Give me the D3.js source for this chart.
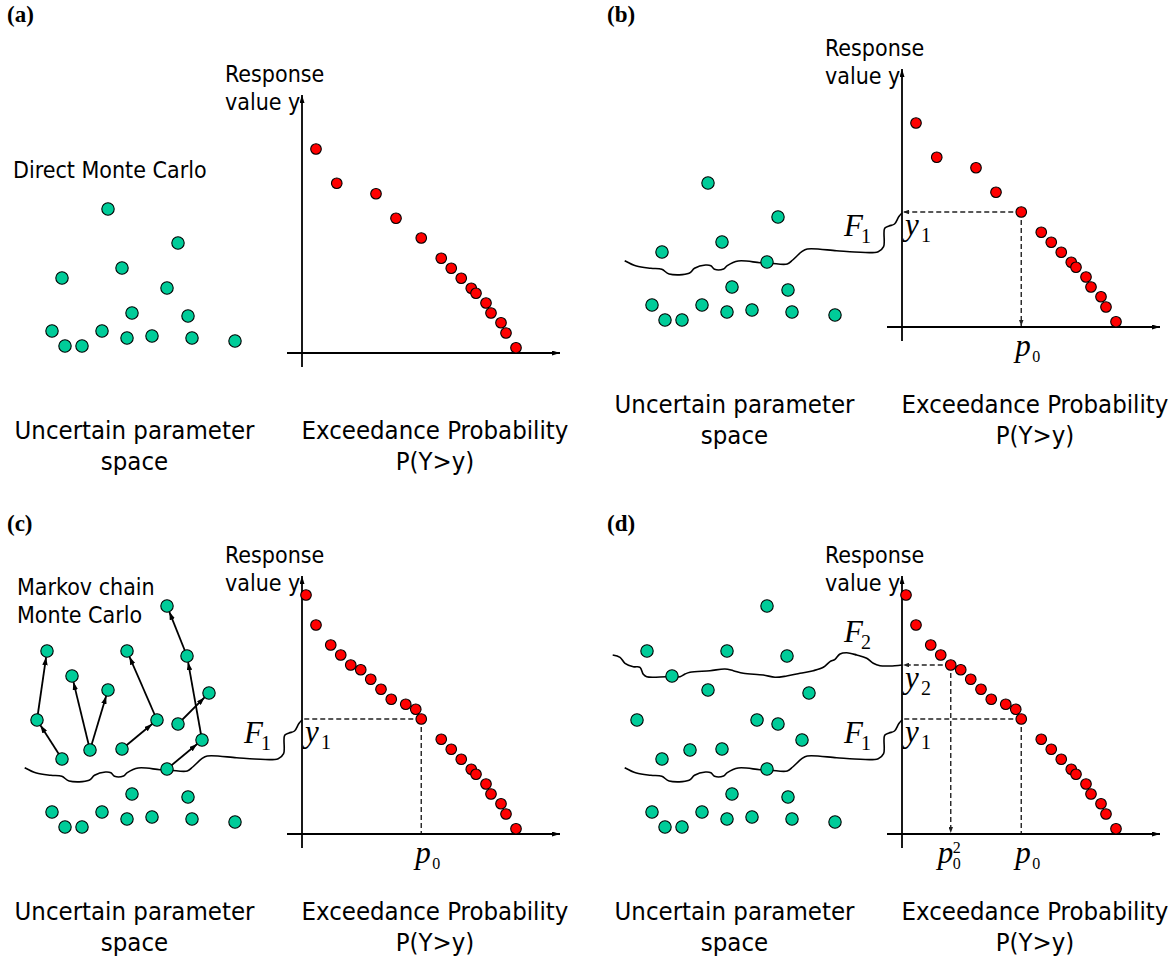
<!DOCTYPE html>
<html>
<head>
    <meta charset="utf-8">
    <title>Direct MC vs subset simulation</title>
    <script src="https://cdn.jsdelivr.net/npm/d3@7"></script>
    <style>
        body { margin: 0; background: #fff; }
    </style>
</head>
<body>
    <script type="text/javascript">

    // ---- data ----
    // parameter-space samples [u1, u2]
    const directSamples = [
        [108, 171], [178, 137], [122, 112], [62, 102], [167, 92],
        [132, 67], [188, 64], [52, 49], [102, 49], [65, 34],
        [82, 34], [127, 42], [152, 44], [192, 42], [235, 39]
    ];
    // extra samples generated by the Markov chains above F1
    const mcmcSamples = [
        [167, 255], [187, 205], [47, 210], [127, 210], [72, 185],
        [209, 168], [37, 141], [157, 141], [202, 121], [90, 111]
    ];
    const mcmcChains = [
        [[62, 102], [37, 141], [47, 210]],
        [[90, 111], [72, 185]],
        [[90, 111], [108, 171]],
        [[122, 112], [157, 141], [127, 210]],
        [[167, 92], [202, 121], [187, 205], [167, 255]],
        [[178, 137], [209, 168]]
    ];
    // failure-region boundaries F1, F2 (hand drawn)
    const levelF1 = [
        [24.7, 93.3], [36.4, 88], [50.9, 85.7], [61.8, 84.7], [69.1, 80], [89.1, 80.7],
        [94.5, 85.7], [105.5, 89], [110.9, 88.3], [114.5, 84.7], [123.6, 85],
        [127.3, 88.3], [138.2, 93], [160, 91.3], [170.9, 90.7], [187.3, 90],
        [192.7, 94], [201.8, 102.3], [207.3, 105], [236.4, 103.3], [254.5, 102],
        [278.2, 102.3], [283.6, 107.3], [284.7, 125.7], [289.1, 128], [294.5, 130],
        [298.9, 137.5], [302, 141]
    ];
    const levelF2 = [
        [12.7, 206], [20, 203.7], [25, 197.7], [33.3, 194.3], [40, 193.7],
        [43.3, 186.7], [46.7, 184.3], [66.7, 184.3], [80, 184.3], [85, 187],
        [90, 188.7], [110, 190.3], [125, 192], [133.3, 190.3], [143.3, 187.7],
        [163.3, 186], [175, 183.7], [186.7, 185], [200, 187.7], [213.3, 190.3],
        [223.3, 193.7], [230, 199.3], [235, 201.7], [240, 207], [246.7, 208.3],
        [256.7, 206], [266.7, 202.7], [273.3, 197.7], [280, 195.3], [290, 195],
        [302, 196]
    ];
    // exceedance points [P(Y>y), y]
    const exceedDirect = [
        [0.056, 0.816], [0.139, 0.679], [0.296, 0.637], [0.376, 0.539]
    ];
    const exceedLevel1 = [
        [0.016, 0.956], [0.056, 0.836], [0.115, 0.756], [0.155, 0.716],
        [0.195, 0.676], [0.235, 0.657], [0.275, 0.619], [0.316, 0.579],
        [0.357, 0.539], [0.415, 0.519], [0.455, 0.499]
    ];
    const exceedTail = [
        [0.477, 0.46], [0.557, 0.379], [0.597, 0.339], [0.637, 0.299],
        [0.677, 0.259], [0.696, 0.239], [0.736, 0.2], [0.756, 0.16],
        [0.796, 0.121], [0.816, 0.08], [0.856, 0.021]
    ];
    const y1 = 0.46, p0 = 0.477;
    const y2 = 0.676, p0sq = 0.195;

    // ---- layout ----
    const width = 1175, height = 962;
    const sansFont = "'DejaVu Sans Condensed', 'DejaVu Sans', sans-serif";
    const serifFont = "'Liberation Serif', 'Times New Roman', serif";
    const green = "#00cc99", red = "#ff0000";

    const u1 = d3.scaleLinear().domain([0, 300]).range([0, 300]);
    const u2 = d3.scaleLinear().domain([0, 380]).range([380, 0]);
    const px = d3.scaleLinear().domain([0, 1]).range([302, 552]);
    const py = d3.scaleLinear().domain([0, 1]).range([353, 103]);

    const panels = [
        {tag: "(a)", tagX: 7, tagY: 22, dx: 0, dy: 0,
         samples: [directSamples], red: [exceedDirect, exceedTail],
         method: ["Direct Monte Carlo"], methodX: 13, methodY: 178,
         levels: [], steps: [], chains: []},
        {tag: "(b)", tagX: 607, tagY: 22, dx: 600, dy: -26,
         samples: [directSamples], red: [exceedDirect, exceedTail],
         method: [], levels: [{pts: levelF1, n: "1", y: y1, ly: 262}],
         steps: [{y: y1, p: p0, arrow: true, sup: null}], chains: []},
        {tag: "(c)", tagX: 7, tagY: 531, dx: 0, dy: 481,
         samples: [directSamples, mcmcSamples], red: [exceedLevel1, exceedTail],
         method: ["Markov chain", "Monte Carlo"], methodX: 17, methodY: 114,
         levels: [{pts: levelF1, n: "1", y: y1, ly: 262}],
         steps: [{y: y1, p: p0, arrow: false, sup: null}], chains: mcmcChains},
        {tag: "(d)", tagX: 607, tagY: 531, dx: 600, dy: 481,
         samples: [directSamples, mcmcSamples], red: [exceedLevel1, exceedTail],
         method: [],
         levels: [{pts: levelF1, n: "1", y: y1, ly: 262}, {pts: levelF2, n: "2", y: y2, ly: 161}],
         steps: [{y: y1, p: p0, arrow: false, sup: null}, {y: y2, p: p0sq, arrow: true, sup: "2"}],
         chains: []}
    ];

    const svg = d3.select("body").append("svg")
        .attr("width", width)
        .attr("height", height)
        .style("background", "#fff");

    const defs = svg.append("defs");
    function addMarker(id, len, wid, color) {
        defs.append("marker")
            .attr("id", id)
            .attr("viewBox", `0 ${-wid / 2} ${len} ${wid}`)
            .attr("markerUnits", "userSpaceOnUse")
            .attr("markerWidth", len)
            .attr("markerHeight", wid)
            .attr("refX", len)
            .attr("refY", 0)
            .attr("orient", "auto")
            .append("path")
            .attr("d", `M0,${-wid / 2}L${len},0L0,${wid / 2}Z`)
            .attr("fill", color);
    }
    addMarker("axisHead", 8, 5, "#000");
    addMarker("dashHead", 6, 4.5, "#222");
    addMarker("chainHead", 8, 5.5, "#000");

    const curve = d3.line()
        .x(d => u1(d[0]))
        .y(d => u2(d[1]))
        .curve(d3.curveCatmullRom.alpha(0.5));

    panels.forEach(P => {
        svg.append("text")
            .attr("x", P.tagX)
            .attr("y", P.tagY)
            .attr("font-family", serifFont)
            .attr("font-weight", "bold")
            .attr("font-size", 23)
            .text(P.tag);

        const g = svg.append("g").attr("transform", `translate(${P.dx},${P.dy})`);

        // threshold boundaries
        P.levels.forEach(L => {
            g.append("path")
                .attr("d", curve(L.pts))
                .attr("fill", "none")
                .attr("stroke", "#000")
                .attr("stroke-width", 1.6);
        });

        // dashed read-off lines
        P.steps.forEach(s => {
            g.append("line")
                .attr("x1", px(s.p)).attr("y1", py(s.y))
                .attr("x2", px(0) + 1).attr("y2", py(s.y))
                .attr("stroke", "#222").attr("stroke-width", 1.4)
                .attr("stroke-dasharray", "5,3")
                .attr("marker-end", s.arrow ? "url(#dashHead)" : null);
            g.append("line")
                .attr("x1", px(s.p)).attr("y1", py(s.y))
                .attr("x2", px(s.p)).attr("y2", py(0) - 1)
                .attr("stroke", "#222").attr("stroke-width", 1.4)
                .attr("stroke-dasharray", "5,3")
                .attr("marker-end", s.arrow ? "url(#dashHead)" : null);
        });

        // markov chain moves
        P.chains.forEach(ch => {
            d3.pairs(ch).forEach(([a, b]) => {
                const x1 = u1(a[0]), yA = u2(a[1]);
                const x2 = u1(b[0]), yB = u2(b[1]);
                const len = Math.hypot(x2 - x1, yB - yA);
                const k = (len - 6.3) / len;
                g.append("line")
                    .attr("x1", x1).attr("y1", yA)
                    .attr("x2", x1 + (x2 - x1) * k).attr("y2", yA + (yB - yA) * k)
                    .attr("stroke", "#000").attr("stroke-width", 1.8)
                    .attr("marker-end", "url(#chainHead)");
            });
        });

        // parameter-space samples
        g.append("g").selectAll("circle")
            .data(P.samples.flat())
            .join("circle")
            .attr("cx", d => u1(d[0]))
            .attr("cy", d => u2(d[1]))
            .attr("r", 6.2)
            .attr("fill", green)
            .attr("stroke", "#000")
            .attr("stroke-width", 1.1);

        // response axes
        g.append("line")
            .attr("x1", px(-0.06)).attr("y1", py(0))
            .attr("x2", px(1.032)).attr("y2", py(0))
            .attr("stroke", "#000").attr("stroke-width", 1.8)
            .attr("marker-end", "url(#axisHead)");
        g.append("line")
            .attr("x1", px(0)).attr("y1", py(-0.056))
            .attr("x2", px(0)).attr("y2", py(1.032))
            .attr("stroke", "#000").attr("stroke-width", 1.8)
            .attr("marker-end", "url(#axisHead)");

        // exceedance points
        g.append("g").selectAll("circle")
            .data(P.red.flat())
            .join("circle")
            .attr("cx", d => px(d[0]))
            .attr("cy", d => py(d[1]))
            .attr("r", 5.3)
            .attr("fill", red)
            .attr("stroke", "#000")
            .attr("stroke-width", 1.1);

        // texts
        const sans = (sel) => sel.attr("font-family", sansFont).attr("fill", "#000");
        g.append("text").call(sans).attr("x", 225).attr("y", 82).attr("font-size", 23).text("Response");
        g.append("text").call(sans).attr("x", 225).attr("y", 110).attr("font-size", 23).text("value y");

        g.append("text").call(sans).attr("x", 134.5).attr("y", 439).attr("font-size", 25.5)
            .attr("text-anchor", "middle").text("Uncertain parameter");
        g.append("text").call(sans).attr("x", 134.5).attr("y", 470).attr("font-size", 25.5)
            .attr("text-anchor", "middle").text("space");
        g.append("text").call(sans).attr("x", 435).attr("y", 439).attr("font-size", 25.5)
            .attr("text-anchor", "middle").text("Exceedance Probability");
        g.append("text").call(sans).attr("x", 435).attr("y", 470).attr("font-size", 25.5)
            .attr("text-anchor", "middle").text("P(Y>y)");

        P.method.forEach((m, i) => {
            g.append("text").call(sans)
                .attr("x", P.methodX).attr("y", P.methodY + i * 28)
                .attr("font-size", 23).text(m);
        });

        // math labels
        const math = (sel, size, italic) => sel.attr("font-family", serifFont)
            .attr("font-size", size).attr("font-style", italic ? "italic" : "normal");
        P.levels.forEach(L => {
            g.append("text").call(math, 31, true).attr("x", 244).attr("y", L.ly).text("F");
            g.append("text").call(math, 20, false).attr("x", 261).attr("y", L.ly + 7).text(L.n);
            const yl = py(L.y) + 23;
            g.append("text").call(math, 31, true).attr("x", 305).attr("y", yl).text("y");
            g.append("text").call(math, 20, false).attr("x", 321).attr("y", yl + 7).text(L.n);
        });
        P.steps.forEach(s => {
            const x = px(s.p);
            if (s.sup) {
                g.append("text").call(math, 31, true).attr("x", x - 13).attr("y", 382).text("p");
                g.append("text").call(math, 16, false).attr("x", x + 2).attr("y", 372).text(s.sup);
                g.append("text").call(math, 16, false).attr("x", x + 2).attr("y", 388).text("0");
            } else {
                g.append("text").call(math, 31, true).attr("x", x - 6).attr("y", 382).text("p");
                g.append("text").call(math, 16, false).attr("x", x + 11).attr("y", 388).text("0");
            }
        });
    });

    </script>
</body>
</html>
